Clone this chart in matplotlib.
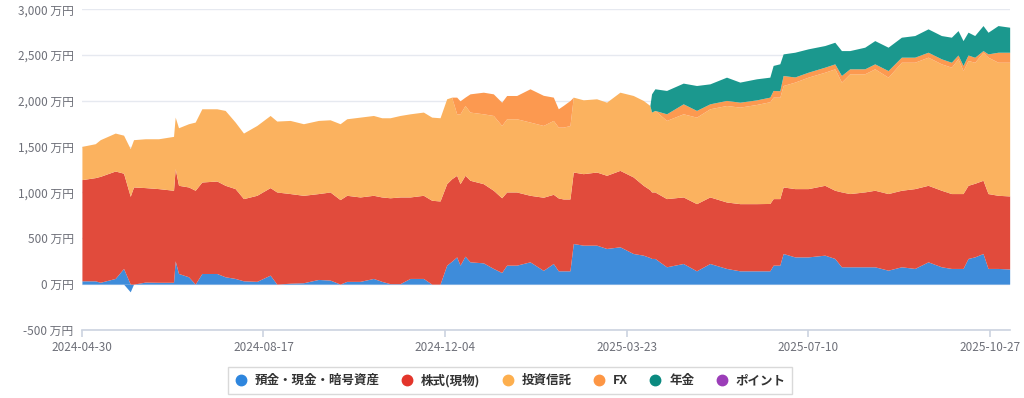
import numpy as np
import pandas as pd
import matplotlib
matplotlib.use("Agg")
import matplotlib.pyplot as plt
from matplotlib.lines import Line2D

plt.rcParams["font.family"] = ["Noto Sans CJK JP", "DejaVu Sans"]

# データ（万円）
dates = ["2024-04-30", "2024-05-08", "2024-05-11", "2024-05-20", "2024-05-25", "2024-05-29",
         "2024-05-31", "2024-06-07", "2024-06-15", "2024-06-24", "2024-06-25", "2024-06-27",
         "2024-07-03", "2024-07-07", "2024-07-11", "2024-07-20", "2024-07-25", "2024-07-31",
         "2024-08-05", "2024-08-13", "2024-08-21", "2024-08-25", "2024-09-02", "2024-09-10",
         "2024-09-19", "2024-09-26", "2024-10-02", "2024-10-06", "2024-10-14", "2024-10-22",
         "2024-10-27", "2024-11-01", "2024-11-07", "2024-11-13", "2024-11-21", "2024-11-26",
         "2024-12-01", "2024-12-05", "2024-12-08", "2024-12-11", "2024-12-13", "2024-12-16",
         "2024-12-19", "2024-12-27", "2025-01-02", "2025-01-07", "2025-01-10", "2025-01-16",
         "2025-01-24", "2025-02-01", "2025-02-07", "2025-02-10", "2025-02-13", "2025-02-17",
         "2025-02-19", "2025-02-25", "2025-03-05", "2025-03-11", "2025-03-19", "2025-03-27",
         "2025-04-02", "2025-04-06", "2025-04-07", "2025-04-09", "2025-04-16", "2025-04-26",
         "2025-05-04", "2025-05-12", "2025-05-22", "2025-05-30", "2025-06-09", "2025-06-17",
         "2025-06-19", "2025-06-23", "2025-06-25", "2025-07-02", "2025-07-10", "2025-07-20",
         "2025-07-26", "2025-07-30", "2025-08-04", "2025-08-13", "2025-08-19", "2025-08-27",
         "2025-09-04", "2025-09-12", "2025-09-20", "2025-09-28", "2025-10-04", "2025-10-08",
         "2025-10-11", "2025-10-14", "2025-10-18", "2025-10-23", "2025-10-26", "2025-11-01",
         "2025-11-08"]

yokin = [36, 36, 20, 62, 171, -84, 0, 22, 20, 20, 254, 116,
         80, 0, 116, 116, 80, 62, 36, 30, 98, 0, 10, 15,
         51, 44, 0, 30, 30, 62, 30, 5, 5, 62, 62, 0,
         0, 207, 250, 297, 207, 305, 243, 232, 171, 127, 207, 207,
         243, 150, 225, 145, 145, 145, 443, 425, 425, 389, 407, 334,
         316, 290, 280, 280, 189, 225, 145, 225, 171, 145, 145, 145,
         207, 207, 334, 297, 297, 316, 280, 189, 189, 189, 189, 152,
         189, 171, 243, 189, 171, 171, 171, 280, 297, 334, 171, 171,
         165]

kabu = [1104, 1126, 1156, 1172, 1039, 958, 1060, 1031, 1022, 1004, 1006, 962,
        980, 1024, 998, 1009, 998, 980, 897, 939, 955, 1005, 978, 954,
        937, 961, 922, 939, 921, 907, 921, 937, 946, 889, 907, 915,
        907, 889, 900, 890, 889, 882, 890, 864, 853, 815, 798, 798,
        726, 798, 755, 795, 784, 784, 780, 780, 798, 798, 834, 835,
        762, 740, 725, 725, 744, 726, 733, 726, 725, 733, 733, 735,
        726, 726, 726, 745, 745, 762, 744, 817, 799, 817, 835, 836,
        835, 871, 835, 835, 817, 817, 817, 798, 803, 799, 817, 798,
        797]

toushin = [363, 370, 400, 414, 415, 520, 516, 533, 544, 588, 562, 628,
           690, 744, 799, 788, 817, 726, 715, 762, 787, 774, 798, 781,
           798, 788, 828, 835, 871, 871, 864, 873, 889, 907, 908, 907,
           908, 926, 890, 671, 762, 762, 744, 762, 816, 789, 799, 799,
           799, 783, 806, 773, 784, 801, 817, 806, 799, 798, 853, 889,
           926, 919, 872, 890, 853, 907, 944, 962, 1053, 1053, 1082, 1110,
           1107, 1107, 1107, 1162, 1216, 1234, 1325, 1198, 1307, 1289, 1325, 1270,
           1397, 1379, 1398, 1379, 1379, 1472, 1342, 1362, 1320, 1397, 1488, 1452,
           1459]

fx = [0, 0, 0, 0, 0, 0, 0, 0, 0, 0, 0, 0,
      0, 0, 0, 0, 0, 0, 0, 0, 0, 0, 0, 0,
      0, 0, 0, 0, 0, 0, 0, 0, 0, 0, 0, 0,
      0, 0, 0, 182, 142, 91, 199, 236, 236, 254, 254, 254,
      363, 329, 254, 200, 237, 273, 0, 0, 0, 0, 0, 0,
      0, 0, 0, 0, 72, 109, 73, 54, 55, 54, 50, 50,
      73, 70, 109, 56, 54, 55, 54, 72, 54, 54, 54, 72,
      55, 55, 54, 55, 54, 40, 55, 60, 55, 18, 36, 109,
      109]

nenkin = [0, 0, 0, 0, 0, 0, 0, 0, 0, 0, 0, 0,
          0, 0, 0, 0, 0, 0, 0, 0, 0, 0, 0, 0,
          0, 0, 0, 0, 0, 0, 0, 0, 0, 0, 0, 0,
          0, 0, 0, 0, 0, 0, 0, 0, 0, 0, 0, 0,
          0, 0, 0, 0, 0, 0, 0, 0, 0, 0, 0, 0,
          0, 0, 199, 236, 255, 226, 272, 218, 254, 219, 230, 218,
          273, 294, 236, 270, 255, 236, 236, 272, 199, 236, 254, 255,
          218, 236, 255, 254, 273, 266, 272, 249, 237, 273, 236, 291,
          273]

point = [0] * len(dates)

labels = ["預金・現金・暗号資産", "株式(現物)", "投資信託", "FX", "年金", "ポイント"]
fill_colors = ["#3e8cda", "#e14b3c", "#fbb25f", "#fc9950", "#1b988e", "#9b3fb5"]
marker_colors = ["#2e86de", "#e3352b", "#fdaf4e", "#fd9644", "#0b8a80", "#9b3db8"]

tick_dates = ["2024-04-30", "2024-08-17", "2024-12-04", "2025-03-23", "2025-07-10", "2025-10-27"]

x = pd.to_datetime(dates)
series = [np.array(s, dtype=float) for s in [yokin, kabu, toushin, fx, nenkin, point]]

fig = plt.figure(figsize=(10.24, 3.98), dpi=100)
ax = fig.add_axes([0.080, 0.171, 0.906, 0.806])

# 積み上げ（マイナスは0より下へ）
pos_base = np.zeros(len(dates))
neg_base = np.zeros(len(dates))
for s, c in zip(series, fill_colors):
    p = np.clip(s, 0, None)
    n = np.clip(s, None, 0)
    if p.any():
        ax.fill_between(x, pos_base, pos_base + p, color=c, linewidth=0, zorder=2)
    if n.any():
        ax.fill_between(x, neg_base, neg_base + n, color=c, linewidth=0, zorder=2)
    pos_base = pos_base + p
    neg_base = neg_base + n

ax.set_ylim(-500, 3000)
ax.set_xlim(pd.Timestamp("2024-04-30"), pd.Timestamp("2025-11-08"))
ax.set_yticks(np.arange(-500, 3001, 500))
ax.set_yticklabels([f"{v:,} 万円" for v in range(-500, 3001, 500)])
ax.set_xticks(pd.to_datetime(tick_dates))
ax.set_xticklabels(tick_dates)

ax.grid(axis="y", color="#e6e9f0", linewidth=1, zorder=0)
for sp in ["top", "right", "left"]:
    ax.spines[sp].set_visible(False)
ax.spines["bottom"].set_color("#ccd3e0")
ax.spines["bottom"].set_linewidth(1.2)
ax.tick_params(axis="y", length=0, pad=6, labelsize=8.5, labelcolor="#6e7079")
ax.tick_params(axis="x", length=5, color="#ccd3e0", width=1.2, pad=3, labelsize=8.5, labelcolor="#6e7079")

handles = [Line2D([0], [0], marker="o", linestyle="none", markersize=7.5,
                  markerfacecolor=c, markeredgecolor=c) for c in marker_colors]
leg = fig.legend(handles, labels, loc="center", bbox_to_anchor=(0.498, 0.044), ncol=6,
                 frameon=True, fancybox=False, edgecolor="#d0d0d0", handlelength=1.0,
                 handletextpad=0.6, columnspacing=1.7, borderpad=0.55,
                 prop={"size": 9, "weight": "bold"})
leg.get_frame().set_linewidth(1.0)
for t in leg.get_texts():
    t.set_color("#333333")

fig.savefig("out.png", dpi=100)
